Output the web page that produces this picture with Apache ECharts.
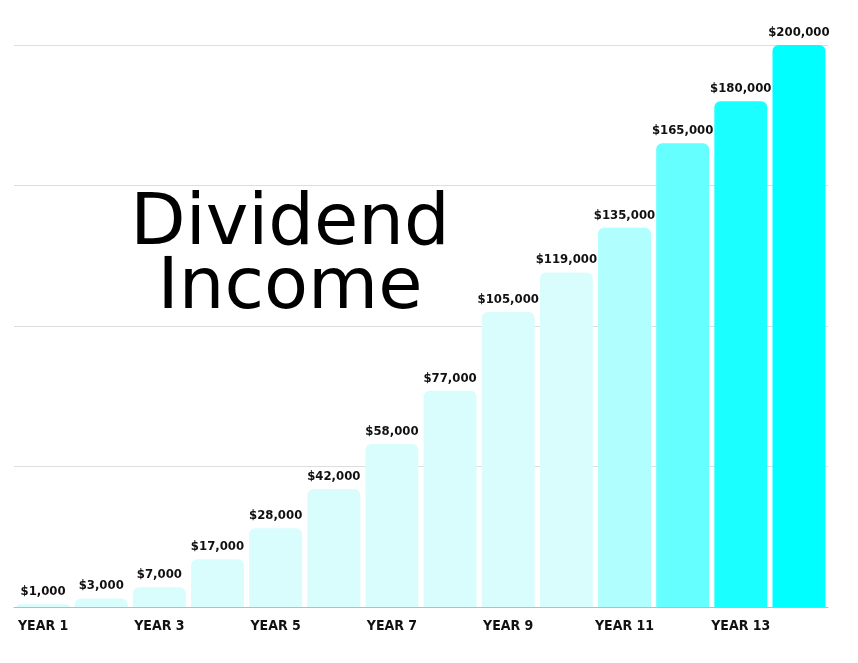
<!DOCTYPE html>
<html>
<head>
<meta charset="utf-8">
<script src="https://cdn.jsdelivr.net/npm/echarts@6/dist/echarts.min.js"></script>
<style>html,body{margin:0;padding:0;background:#fff}#chart{width:858px;height:663px}</style>
</head>
<body>
<div id="chart"></div>
<script>
var years = ['YEAR 1', 'YEAR 2', 'YEAR 3', 'YEAR 4', 'YEAR 5', 'YEAR 6', 'YEAR 7',
	'YEAR 8', 'YEAR 9', 'YEAR 10', 'YEAR 11', 'YEAR12', 'YEAR 13', 'YEAR 14'];
var income = [1000, 3000, 7000, 17000, 28000, 42000, 58000, 77000, 105000, 119000,
	135000, 165000, 180000, 200000];
var barColors = ['#d9fdfd', '#d9fdfd', '#d9fdfd', '#d9fdfd', '#d9fdfd', '#d9fdfd', '#d9fdfd',
	'#d9fdfd', '#d9fdfd', '#d9fdfd', '#b0fefe', '#66ffff', '#1affff', '#00ffff'];

var labelFont = '"Liberation Sans Narrow", "DejaVu Sans Condensed", sans-serif';

var chart = echarts.init(document.getElementById('chart'));
chart.setOption({
	animation: false,
	grid: { left: 14, right: 30, top: 45, bottom: 56 },
	title: {
		text: 'Dividend\nIncome',
		left: 285, top: 188,
		textAlign: 'center',
		textStyle: { fontFamily: '"DejaVu Sans", sans-serif', fontWeight: 'normal',
			fontSize: 72, lineHeight: 64, color: '#000' }
	},
	xAxis: {
		type: 'category',
		data: years,
		axisTick: { show: false },
		axisLine: { lineStyle: { color: '#bbb' } },
		axisLabel: { color: '#111', fontFamily: labelFont, fontWeight: 'bold', fontSize: 14, margin: 12 }
	},
	yAxis: {
		type: 'value', min: 0, max: 200000, interval: 50000,
		axisLabel: { show: false },
		splitLine: { lineStyle: { color: '#ddd' } }
	},
	series: [{
		type: 'bar',
		barCategoryGap: '9%',
		data: income.map(function(v, i) {
			return { value: v, itemStyle: { color: barColors[i] } };
		}),
		itemStyle: { borderRadius: [6, 6, 0, 0] },
		label: {
			show: true, position: 'top', distance: 6,
			color: '#111', fontFamily: labelFont, fontWeight: 'bold', fontSize: 13,
			formatter: function(p) { return '$' + p.value.toLocaleString('en-US'); }
		}
	}]
});
</script>
</body>
</html>
